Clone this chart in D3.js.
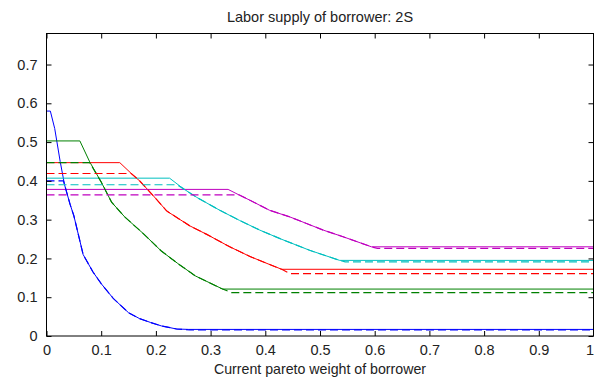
<!DOCTYPE html>
<html>
<head>
<meta charset="utf-8">
<script src="https://cdn.jsdelivr.net/npm/d3@7/dist/d3.min.js"></script>
<style>
  html, body { margin: 0; padding: 0; background: #fff; overflow: hidden; }
  svg { display: block; font-family: Arial, "Liberation Sans", Helvetica, sans-serif; }
</style>
</head>
<body>
<div id="chart"></div>
<script>
// axis ticks
const xTicks = [0, 0.1, 0.2, 0.3, 0.4, 0.5, 0.6, 0.7, 0.8, 0.9, 1];
const yTicks = [0, 0.1, 0.2, 0.3, 0.4, 0.5, 0.6, 0.7];
const xTickLabels = ['0', '0.1', '0.2', '0.3', '0.4', '0.5', '0.6', '0.7', '0.8', '0.9', '1'];
const yTickLabels = ['0', '0.1', '0.2', '0.3', '0.4', '0.5', '0.6', '0.7'];

// blue
const blueX = [0, 0.007, 0.015, 0.025, 0.033, 0.043, 0.05, 0.067, 0.085, 0.1, 0.122, 0.15, 0.17, 0.19, 0.21, 0.238, 0.26, 1];
const blueY = [0.58, 0.58, 0.535, 0.45, 0.39, 0.34, 0.31, 0.21, 0.165, 0.135, 0.097, 0.06, 0.045, 0.035, 0.026, 0.018, 0.017, 0.017];
const blueDashX = [0, 0.031, 0.033, 0.043, 0.05, 0.067, 0.085, 0.1, 0.122, 0.15, 0.17, 0.19, 0.21, 0.238, 0.262, 1];
const blueDashY = [0.40, 0.40, 0.39, 0.34, 0.31, 0.21, 0.165, 0.135, 0.097, 0.06, 0.045, 0.035, 0.026, 0.018, 0.0155, 0.0155];

// green
const greenX = [0, 0.061, 0.079, 0.1, 0.119, 0.143, 0.177, 0.21, 0.24, 0.272, 0.322, 1];
const greenY = [0.503, 0.503, 0.449, 0.397, 0.345, 0.307, 0.264, 0.219, 0.187, 0.155, 0.121, 0.121];
const greenDashX = [0, 0.079, 0.1, 0.119, 0.143, 0.177, 0.21, 0.24, 0.272, 0.322, 0.338, 1];
const greenDashY = [0.447, 0.447, 0.397, 0.345, 0.307, 0.264, 0.219, 0.187, 0.155, 0.121, 0.112, 0.112];

// red
const redX = [0, 0.134, 0.155, 0.171, 0.195, 0.22, 0.262, 0.293, 0.335, 0.372, 0.405, 0.43, 1];
const redY = [0.447, 0.447, 0.419, 0.399, 0.362, 0.322, 0.284, 0.262, 0.23, 0.205, 0.186, 0.172, 0.172];
const redDashX = [0, 0.155, 0.171, 0.195, 0.22, 0.262, 0.293, 0.335, 0.372, 0.405, 0.43, 0.445, 1];
const redDashY = [0.419, 0.419, 0.399, 0.362, 0.322, 0.284, 0.262, 0.23, 0.205, 0.186, 0.172, 0.161, 0.161];

// cyan
const cyanX = [0, 0.225, 0.25, 0.274, 0.317, 0.353, 0.39, 0.427, 0.481, 0.536, 1];
const cyanY = [0.407, 0.407, 0.38, 0.358, 0.324, 0.298, 0.273, 0.251, 0.221, 0.195, 0.195];
const cyanDashX = [0, 0.239, 0.25, 0.274, 0.317, 0.353, 0.39, 0.427, 0.481, 0.536, 0.546, 1];
const cyanDashY = [0.39, 0.39, 0.38, 0.358, 0.324, 0.298, 0.273, 0.251, 0.221, 0.195, 0.191, 0.191];

// magenta
const magentaX = [0, 0.332, 0.353, 0.372, 0.408, 0.445, 0.506, 0.542, 0.594, 1];
const magentaY = [0.378, 0.378, 0.363, 0.35, 0.324, 0.307, 0.273, 0.256, 0.23, 0.23];
const magentaDashX = [0, 0.352, 0.372, 0.408, 0.445, 0.506, 0.542, 0.594, 0.605, 1];
const magentaDashY = [0.364, 0.364, 0.35, 0.324, 0.307, 0.273, 0.256, 0.23, 0.226, 0.226];

const series = [
  { color: '#0000ff', x: blueX, y: blueY, dx: blueDashX, dy: blueDashY },
  { color: '#008000', x: greenX, y: greenY, dx: greenDashX, dy: greenDashY },
  { color: '#ff0000', x: redX, y: redY, dx: redDashX, dy: redDashY },
  { color: '#00bfbf', x: cyanX, y: cyanY, dx: cyanDashX, dy: cyanDashY },
  { color: '#bf00bf', x: magentaX, y: magentaY, dx: magentaDashX, dy: magentaDashY }
];

const width = 594, height = 381;
const margin = { left: 46.5, right: 0.5, top: 33.5, bottom: 45 };

const svg = d3.select('#chart').append('svg')
  .attr('width', width).attr('height', height);

const x = d3.scaleLinear().domain([0, 1]).range([margin.left, width - margin.right]);
const y = d3.scaleLinear().domain([0, 0.78]).range([height - margin.bottom, margin.top]);

const line = d3.line().x(d => x(d[0])).y(d => y(d[1]));
const zip = (a, b) => a.map((v, i) => [v, b[i]]);

const plot = svg.append('g');
// solid lines first, dashed on top
series.forEach(s => {
  plot.append('path').attr('d', line(zip(s.x, s.y)))
    .attr('fill', 'none').attr('stroke', s.color).attr('stroke-width', 1);
});
series.forEach(s => {
  plot.append('path').attr('d', line(zip(s.dx, s.dy)))
    .attr('fill', 'none').attr('stroke', s.color).attr('stroke-width', 1.2)
    .attr('stroke-dasharray', '8,4');
});

// axes (ticks inward, MATLAB style)
const fmtX = (d, i) => xTickLabels[i];
const fmtY = (d, i) => yTickLabels[i];
const styleAxis = g => {
  g.selectAll('.domain').remove();
  g.selectAll('line').attr('stroke', '#000');
  g.selectAll('text').attr('fill', '#222').style('font-size', '14.5px');
};

const xAxis = svg.append('g').attr('transform', `translate(0,${y(0)})`)
  .call(d3.axisBottom(x).tickValues(xTicks).tickFormat(fmtX).tickSize(-5).tickPadding(9))
  .call(styleAxis);
// last label sits on the window edge: keep it inside
xAxis.selectAll('.tick text').filter(d => d === 1).attr('text-anchor', 'end');
svg.append('g').attr('transform', `translate(0,${y.range()[1]})`)
  .call(d3.axisTop(x).tickValues(xTicks).tickFormat('').tickSize(-5))
  .call(styleAxis);
svg.append('g').attr('transform', `translate(${x(0)},0)`)
  .call(d3.axisLeft(y).tickValues(yTicks).tickFormat(fmtY).tickSize(-5).tickPadding(9))
  .call(styleAxis);
svg.append('g').attr('transform', `translate(${x(1)},0)`)
  .call(d3.axisRight(y).tickValues(yTicks).tickFormat('').tickSize(-5))
  .call(styleAxis);

// box
svg.append('rect')
  .attr('x', x(0)).attr('y', y.range()[1])
  .attr('width', x(1) - x(0)).attr('height', y(0) - y.range()[1])
  .attr('fill', 'none').attr('stroke', '#000').attr('stroke-width', 1);

// title and label
svg.append('text').text('Labor supply of borrower: 2S')
  .attr('x', (x(0) + x(1)) / 2).attr('y', 22)
  .attr('text-anchor', 'middle').style('font-size', '14.5px').attr('fill', '#222');
svg.append('text').text('Current pareto weight of borrower')
  .attr('x', (x(0) + x(1)) / 2).attr('y', 374)
  .attr('text-anchor', 'middle').style('font-size', '14.2px').attr('fill', '#222');
</script>
</body>
</html>
